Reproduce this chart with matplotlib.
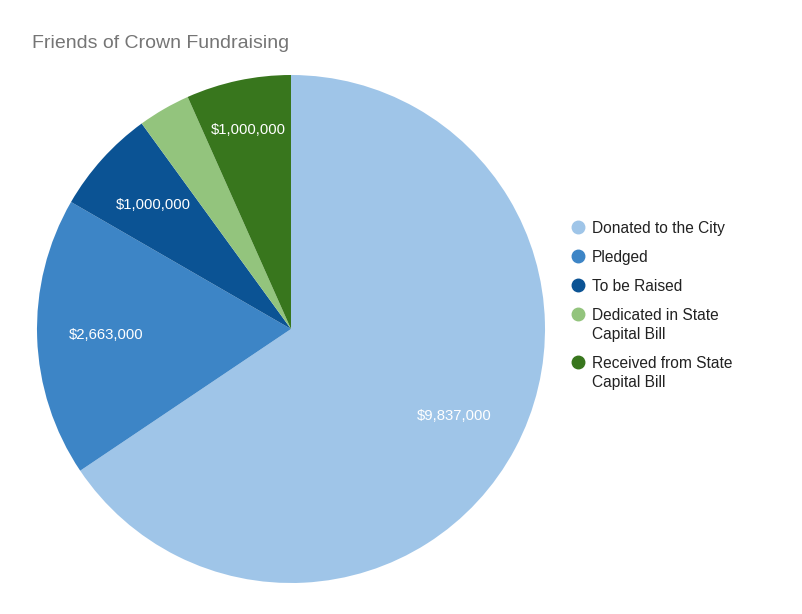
import matplotlib.pyplot as plt
import numpy as np
from matplotlib.lines import Line2D

plt.rcParams["font.family"] = ["Liberation Sans", "DejaVu Sans"]

# === Daten ===
categories = [
    "Donated to the City",
    "Pledged",
    "To be Raised",
    "Dedicated in State\nCapital Bill",
    "Received from State\nCapital Bill",
]
amounts = [9837000, 2663000, 1000000, 500000, 1000000]
colors = ["#9fc5e8", "#3d85c6", "#0b5394", "#93c47d", "#38761d"]
title = "Friends of Crown Fundraising"

W, H = 802, 614
fig = plt.figure(figsize=(W / 100, H / 100), dpi=100)

# Pie: Mittelpunkt (291, 329), Radius 254 px
cx, cy, r = 291, 329, 254
ax = fig.add_axes([(cx - r) / W, (H - cy - r) / H, 2 * r / W, 2 * r / H])

total = sum(amounts)

wedges, _ = ax.pie(
    amounts,
    colors=colors,
    startangle=90,
    counterclock=False,
    radius=1.0,
    wedgeprops=dict(linewidth=0),
)

# Wertelabels (kleine Stücke ohne Label)
for w, value in zip(wedges, amounts):
    share = value / total
    if share < 0.05:
        continue
    mid = np.deg2rad((w.theta1 + w.theta2) / 2)
    dist = 0.8 if share < 0.08 and np.sin(mid) > 0.9 else 0.73
    ax.text(dist * np.cos(mid), dist * np.sin(mid), f"${value:,.0f}",
            color="white", fontsize=10.7, ha="center", va="center")

ax.set_xlim(-1, 1)
ax.set_ylim(-1, 1)
ax.set_aspect("equal")
ax.axis("off")

fig.text(32 / W, 1 - 43 / H, title, fontsize=14, color="#757575",
         ha="left", va="center")

# === Legende (manuell, Marker an erster Zeile) ===
y = 227
for label, c in zip(categories, colors):
    fig.add_artist(Line2D([578 / W], [1 - y / H], marker="o", linestyle="none",
                          markersize=9, markerfacecolor=c, markeredgecolor=c,
                          transform=fig.transFigure))
    lines = label.split("\n")
    for j, line in enumerate(lines):
        fig.text(592 / W, 1 - (y + 19 * j) / H, line, fontsize=11.2,
                 color="#222222", ha="left", va="center_baseline")
    y += 29 + 19 * (len(lines) - 1)

fig.savefig("out.png", dpi=100, facecolor="white")
